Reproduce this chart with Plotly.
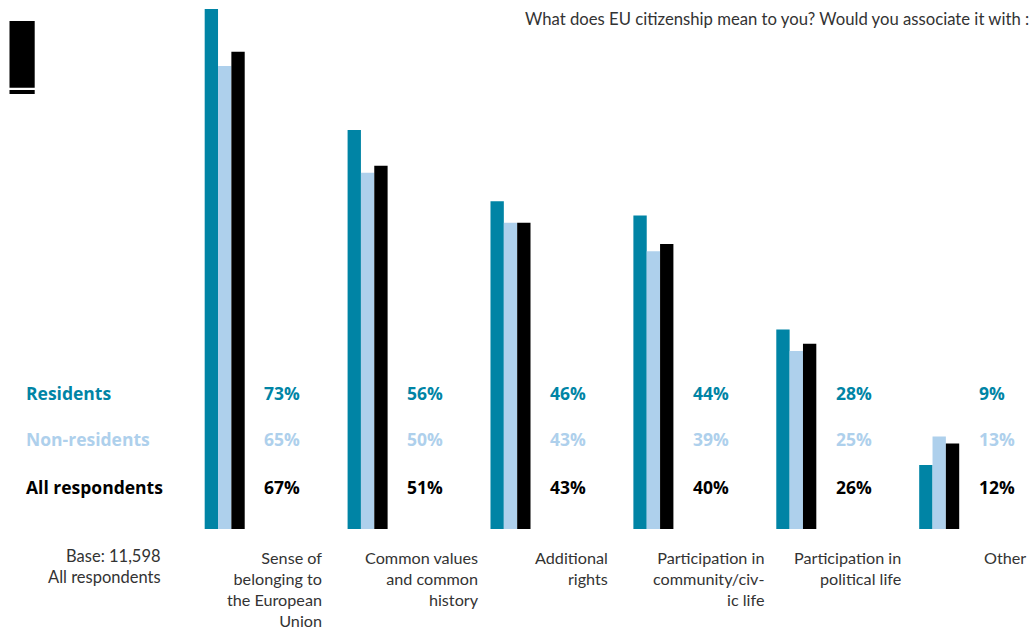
import plotly.graph_objects as go

# ---- data ----
categories = ["Sense of belonging to the European Union", "Common values and common history",
              "Additional rights", "Participation in community/civic life",
              "Participation in political life", "Other"]
category_labels = ["Sense of<br>belonging to<br>the European<br>Union",
                   "Common values<br>and common<br>history",
                   "Additional<br>rights",
                   "Participation in<br>community/civ-<br>ic life",
                   "Participation in<br>political life",
                   "Other"]
series_names = ["Residents", "Non-residents", "All respondents"]
residents = [73, 56, 46, 44, 28, 9]
non_residents = [65, 50, 43, 39, 25, 13]
all_respondents = [67, 51, 43, 40, 26, 12]
title_text = "What does EU citizenship mean to you? Would you associate it with :"
base_text = "Base: 11,598<br>All respondents"

# ---- style ----
W, H = 1032, 630
colors = ["#0084A5", "#AED0EC", "#000000"]
FONT = "Lato"
BOLD_FONT = "Open Sans"
px_per_group = 142.9
first_center_px = 224.7
x0 = -first_center_px / px_per_group
x1 = x0 + W / px_per_group
px_per_pct = 7.123
base_px = 529
y0 = -(H - base_px) / px_per_pct
y1 = base_px / px_per_pct

xs = list(range(len(categories)))
series_values = [residents, non_residents, all_respondents]

fig = go.Figure()
for name, vals, col in zip(series_names, series_values, colors):
    fig.add_trace(go.Bar(x=xs, y=vals, name=name, marker=dict(color=col, line=dict(width=0)),
                         hoverinfo="skip"))

def py(p):
    return 1 - p / H

annotations = []
row_px = [393, 439, 487]
for name, vals, col, ypx in zip(series_names, series_values, colors, row_px):
    annotations.append(dict(xref="paper", yref="paper", x=23.5 / W, y=py(ypx), text="<b>%s</b>" % name,
                            xanchor="left", yanchor="middle", showarrow=False,
                            font=dict(family=BOLD_FONT, size=17.5, color=col)))
    for i, v in enumerate(vals):
        annotations.append(dict(xref="x", yref="paper", x=xs[i], y=py(ypx), text="<b>%d%%</b>" % v,
                                xanchor="left", yanchor="middle", xshift=37.5, showarrow=False,
                                font=dict(family=BOLD_FONT, size=17.5, color=col)))

label_xshift = [98, 112.5, 98, 111.5, 106, 88]
for i, lab in enumerate(category_labels):
    annotations.append(dict(xref="x", yref="paper", x=xs[i], y=py(546.5), text=lab,
                            xanchor="right", yanchor="top", align="right", xshift=label_xshift[i],
                            showarrow=False, borderpad=0,
                            font=dict(family=FONT, size=16.2, color="#333333")))

annotations.append(dict(xref="paper", yref="paper", x=163 / W, y=py(544), text=base_text,
                        xanchor="right", yanchor="top", align="right", showarrow=False,
                        font=dict(family=FONT, size=16.5, color="#333333")))
annotations.append(dict(xref="paper", yref="paper", x=1031 / W, y=py(7), text=title_text,
                        xanchor="right", yanchor="top", showarrow=False,
                        font=dict(family=FONT, size=16.7, color="#333333")))

shapes = [
    dict(type="rect", xref="paper", yref="paper", x0=9.5 / W, x1=34.7 / W, y0=py(87.7), y1=py(21),
         fillcolor="#000000", line=dict(width=0)),
    dict(type="rect", xref="paper", yref="paper", x0=9.5 / W, x1=34.7 / W, y0=py(94), y1=py(90),
         fillcolor="#000000", line=dict(width=0)),
]

fig.update_layout(
    width=W, height=H,
    margin=dict(l=0, r=0, t=0, b=0),
    paper_bgcolor="white", plot_bgcolor="white",
    barmode="group", bargap=0.72, bargroupgap=0,
    showlegend=False,
    xaxis=dict(range=[x0, x1], visible=False, fixedrange=True),
    yaxis=dict(range=[y0, y1], visible=False, fixedrange=True),
    annotations=annotations, shapes=shapes,
    font=dict(family=FONT),
)

fig.write_html("out.html", config={"displayModeBar": False})
